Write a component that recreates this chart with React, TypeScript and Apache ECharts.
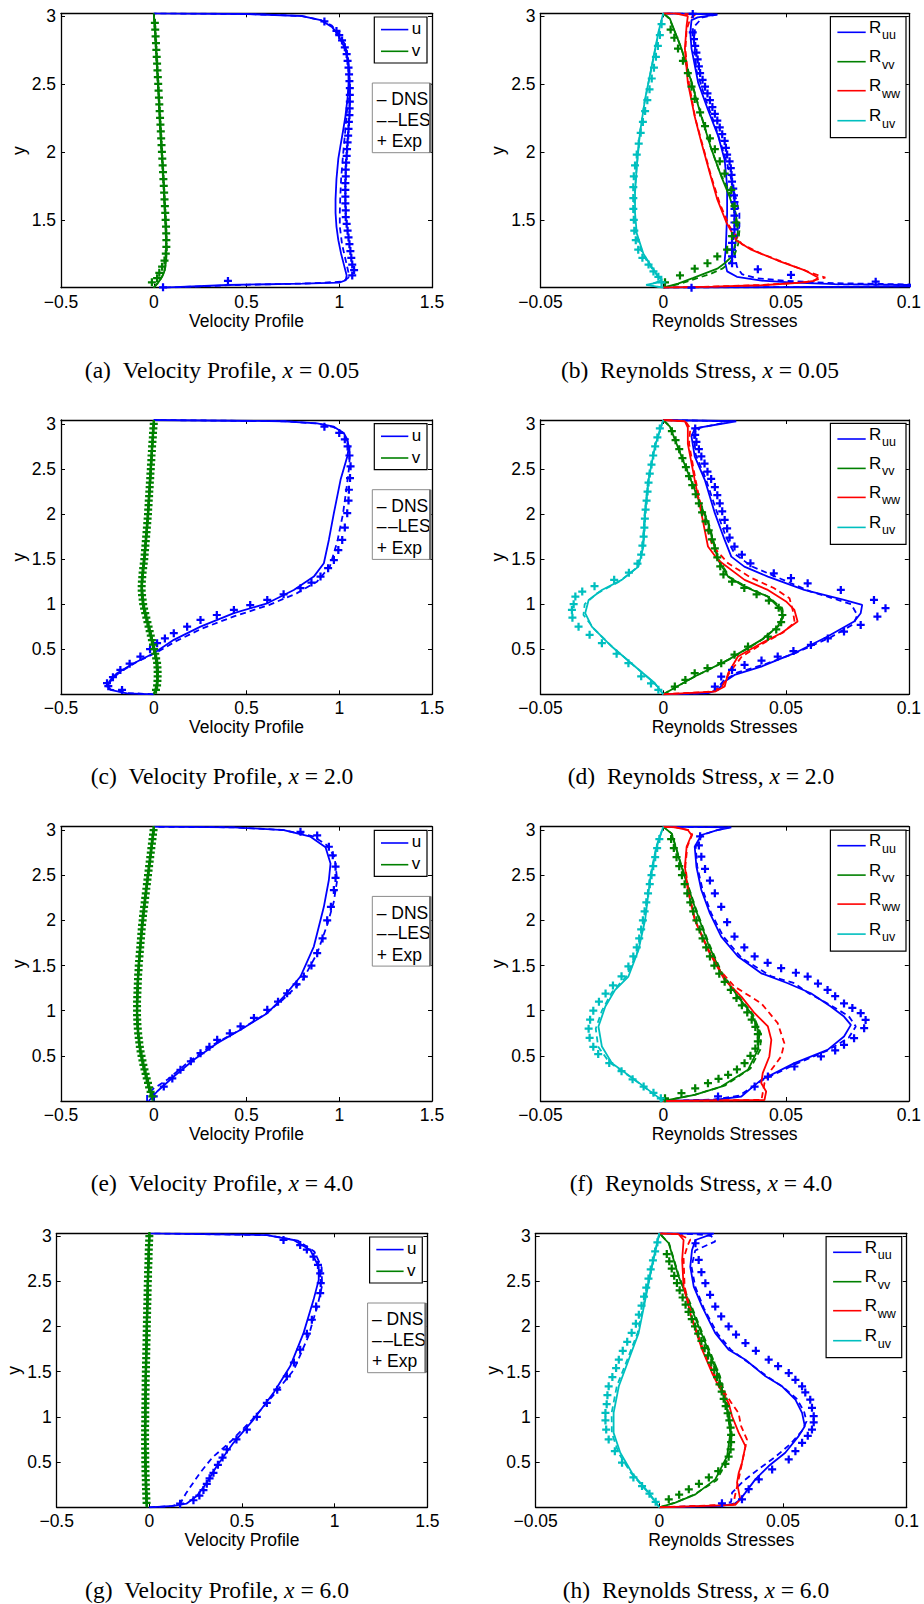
import React, { useEffect, useRef } from "react";
import * as echarts from "echarts";

type P = [number, number][];

const BLUE = "#0000ff";
const GREEN = "#008000";
const RED = "#ff0000";
const CYAN = "#00bfbf";

// ---------- (a) velocity, x = 0.05 ----------
const A_U_DNS: P = [[0.05,1.0],[0.4,1.02],[0.8,1.03],[1.0,1.038],[1.035,1.055],[1.04,1.09],[1.025,1.17],[1.01,1.25],[0.995,1.35],[0.985,1.45],[0.98,1.55],[0.98,1.65],[0.985,1.8],[0.995,1.95],[1.006,2.04],[1.02,2.15],[1.033,2.26],[1.045,2.4],[1.05,2.5],[1.05,2.63],[1.04,2.72],[1.024,2.78],[0.99,2.87],[0.96,2.92],[0.9,2.97],[0.8,3.0],[0.5,3.015],[0.0,3.02]];
const A_U_LES: P = [[0.06,1.0],[0.45,1.02],[0.85,1.032],[1.02,1.045],[1.05,1.075],[1.05,1.11],[1.035,1.2],[1.015,1.32],[1.003,1.45],[1.003,1.55],[1.005,1.65],[1.01,1.8],[1.02,1.97],[1.032,2.15],[1.045,2.35],[1.053,2.5],[1.055,2.6],[1.045,2.72],[1.027,2.8],[0.995,2.87],[0.96,2.93],[0.9,2.97],[0.8,3.0],[0.5,3.015],[0.0,3.02]];
const A_U_EXP: P = [[0.05,1.003],[0.4,1.05],[1.07,1.09],[1.08,1.13],[1.07,1.17],[1.065,1.22],[1.06,1.27],[1.055,1.32],[1.05,1.37],[1.045,1.42],[1.04,1.47],[1.035,1.52],[1.035,1.57],[1.033,1.62],[1.033,1.67],[1.033,1.72],[1.033,1.77],[1.035,1.82],[1.035,1.87],[1.037,1.92],[1.04,1.97],[1.042,2.02],[1.045,2.07],[1.048,2.12],[1.05,2.17],[1.052,2.22],[1.055,2.27],[1.056,2.32],[1.057,2.37],[1.057,2.42],[1.057,2.47],[1.055,2.52],[1.053,2.57],[1.05,2.62],[1.045,2.67],[1.04,2.72],[1.03,2.77],[1.015,2.82],[1.0,2.86],[0.985,2.89],[0.92,2.96]];
const A_V_DNS: P = [[0,1.0],[0.02,1.03],[0.04,1.07],[0.055,1.11],[0.065,1.18],[0.068,1.25],[0.066,1.35],[0.063,1.45],[0.058,1.6],[0.054,1.75],[0.048,1.9],[0.04,2.04],[0.033,2.2],[0.027,2.4],[0.02,2.55],[0.014,2.7],[0.008,2.85],[0.003,2.95],[0,3.02]];
const A_V_LES: P = [[0,1.0],[0.025,1.04],[0.045,1.08],[0.06,1.13],[0.067,1.2],[0.07,1.28],[0.068,1.4],[0.064,1.5],[0.058,1.65],[0.052,1.8],[0.045,1.95],[0.038,2.1],[0.03,2.3],[0.023,2.5],[0.016,2.65],[0.01,2.8],[0.004,2.93],[0,3.02]];
const A_V_EXP: P = [[-0.01,1.04],[0.018,1.07],[0.03,1.11],[0.045,1.155],[0.058,1.2],[0.065,1.25],[0.068,1.3],[0.068,1.35],[0.067,1.4],[0.066,1.45],[0.064,1.5],[0.062,1.55],[0.06,1.6],[0.058,1.65],[0.056,1.7],[0.054,1.75],[0.052,1.8],[0.05,1.85],[0.048,1.9],[0.046,1.95],[0.044,2.0],[0.042,2.05],[0.04,2.1],[0.038,2.15],[0.036,2.2],[0.034,2.25],[0.032,2.3],[0.03,2.35],[0.028,2.4],[0.026,2.45],[0.024,2.5],[0.022,2.55],[0.02,2.6],[0.018,2.65],[0.016,2.7],[0.014,2.75],[0.012,2.8],[0.01,2.85],[0.008,2.9],[0.006,2.95]];

// ---------- (b) Reynolds stress, x = 0.05 ----------
const B_UU_DNS: P = [[0,1.0],[0.05,1.004],[0.11,1.012],[0.1,1.02],[0.07,1.027],[0.053,1.037],[0.04,1.052],[0.03,1.08],[0.026,1.12],[0.025,1.2],[0.0255,1.3],[0.0257,1.4],[0.026,1.55],[0.026,1.75],[0.025,1.94],[0.0223,2.12],[0.0182,2.31],[0.0142,2.51],[0.0115,2.76],[0.011,2.88],[0.0115,2.97],[0.014,2.99],[0.022,3.012],[0.01,3.018],[0,3.02]];
const B_UU_LES: P = [[0,1.0],[0.06,1.005],[0.11,1.013],[0.1,1.024],[0.07,1.033],[0.05,1.05],[0.038,1.07],[0.032,1.1],[0.03,1.155],[0.029,1.25],[0.0295,1.35],[0.031,1.45],[0.031,1.55],[0.029,1.7],[0.027,1.85],[0.0245,2.0],[0.021,2.2],[0.017,2.4],[0.0135,2.6],[0.0125,2.8],[0.013,2.93],[0.016,2.99],[0.022,3.01],[0.01,3.018],[0,3.02]];
const B_UU_EXP: P = [[0.0115,1.0],[0.0865,1.044],[0.052,1.094],[0.0385,1.135],[0.028,1.18],[0.028,1.23],[0.028,1.28],[0.028,1.33],[0.0285,1.38],[0.029,1.43],[0.029,1.48],[0.029,1.53],[0.029,1.58],[0.029,1.63],[0.0288,1.68],[0.0285,1.73],[0.028,1.78],[0.0278,1.83],[0.0275,1.88],[0.027,1.93],[0.026,1.98],[0.0255,2.03],[0.025,2.08],[0.024,2.13],[0.023,2.18],[0.022,2.23],[0.021,2.28],[0.02,2.33],[0.019,2.38],[0.018,2.43],[0.017,2.48],[0.016,2.53],[0.015,2.58],[0.0145,2.63],[0.014,2.68],[0.0135,2.73],[0.013,2.78],[0.0125,2.83],[0.012,2.88],[0.012,3.015]];
const B_VV_DNS: P = [[0,1.0],[0.006,1.03],[0.012,1.07],[0.017,1.106],[0.022,1.14],[0.025,1.18],[0.028,1.23],[0.029,1.3],[0.0304,1.4],[0.0297,1.52],[0.027,1.67],[0.0236,1.82],[0.0196,2.02],[0.0155,2.26],[0.0115,2.51],[0.0074,2.76],[0.0027,2.98],[0,3.02]];
const B_VV_LES: P = [[0,1.0],[0.007,1.03],[0.013,1.065],[0.019,1.1],[0.024,1.14],[0.027,1.18],[0.029,1.24],[0.0305,1.32],[0.031,1.42],[0.0295,1.55],[0.027,1.7],[0.023,1.85],[0.019,2.05],[0.015,2.3],[0.011,2.55],[0.007,2.78],[0.0025,2.98],[0,3.02]];
const B_VV_EXP: P = [[0.0007,1.04],[0.0068,1.09],[0.0128,1.14],[0.018,1.18],[0.022,1.23],[0.026,1.28],[0.028,1.38],[0.0297,1.48],[0.029,1.6],[0.0277,1.72],[0.025,1.84],[0.023,1.93],[0.021,2.02],[0.019,2.1],[0.017,2.19],[0.015,2.29],[0.0128,2.39],[0.0115,2.48],[0.01,2.58],[0.008,2.67],[0.006,2.76],[0.0045,2.84],[0.003,2.9]];
const B_WW_DNS: P = [[0,1.0],[0.02,1.008],[0.04,1.018],[0.055,1.035],[0.0615,1.05],[0.063,1.075],[0.0574,1.13],[0.0466,1.2],[0.0358,1.28],[0.0297,1.35],[0.0257,1.48],[0.022,1.65],[0.019,1.84],[0.0155,2.07],[0.0128,2.26],[0.01,2.51],[0.0088,2.76],[0.0095,2.93],[0.01,3.0],[0.005,3.02],[0,3.02]];
const B_WW_LES: P = [[0,1.0],[0.02,1.008],[0.04,1.02],[0.058,1.04],[0.066,1.075],[0.06,1.11],[0.05,1.18],[0.04,1.25],[0.032,1.32],[0.027,1.45],[0.023,1.62],[0.0195,1.82],[0.016,2.05],[0.013,2.25],[0.0105,2.5],[0.009,2.75],[0.0095,2.9],[0.011,2.98],[0.013,3.01],[0.005,3.02],[0,3.02]];
const B_UV_DNS: P = [[0,1.0],[-0.007,1.02],[-0.002,1.04],[-0.0007,1.06],[-0.002,1.08],[-0.0047,1.155],[-0.0081,1.25],[-0.0108,1.4],[-0.0115,1.55],[-0.0115,1.7],[-0.0108,1.89],[-0.0095,2.14],[-0.0074,2.39],[-0.0047,2.63],[-0.002,2.88],[0,3.02]];
const B_UV_LES: P = [[0,1.0],[-0.006,1.02],[-0.002,1.045],[-0.002,1.08],[-0.005,1.15],[-0.0085,1.25],[-0.011,1.38],[-0.012,1.5],[-0.0118,1.65],[-0.011,1.85],[-0.0098,2.1],[-0.0078,2.35],[-0.005,2.6],[-0.0022,2.85],[0,3.02]];
const B_UV_EXP: P = [[-0.0007,1.04],[-0.002,1.08],[-0.004,1.12],[-0.006,1.17],[-0.0085,1.22],[-0.0102,1.28],[-0.0112,1.35],[-0.0118,1.42],[-0.012,1.5],[-0.0122,1.58],[-0.0122,1.66],[-0.0122,1.74],[-0.012,1.82],[-0.0115,1.9],[-0.0108,1.98],[-0.01,2.06],[-0.0092,2.14],[-0.0083,2.22],[-0.0074,2.3],[-0.0065,2.38],[-0.0056,2.46],[-0.0047,2.54],[-0.0038,2.62],[-0.003,2.7],[-0.0022,2.78],[-0.0014,2.86],[-0.0007,2.94]];

// ---------- shared fine y-levels for dense experimental v markers ----------
const EXP_Y_FINE = [0.05,0.1,0.15,0.2,0.25,0.3,0.35,0.4,0.45,0.5,0.55,0.6,0.65,0.7,0.75,0.8,0.85,0.9,0.95,1.0,1.05,1.1,1.15,1.2,1.25,1.3,1.35,1.4,1.45,1.5,1.55,1.6,1.65,1.7,1.75,1.8,1.85,1.9,1.95,2.0,2.05,2.1,2.15,2.2,2.25,2.3,2.35,2.4,2.45,2.5,2.55,2.6,2.65,2.7,2.75,2.8,2.85,2.9,2.95,3.0];

// ---------- (c) velocity, x = 2.0 ----------
const C_U_DNS: P = [[0,0],[-0.144,0.011],[-0.234,0.049],[-0.252,0.104],[-0.23,0.17],[-0.198,0.234],[-0.108,0.345],[0,0.456],[0.108,0.604],[0.252,0.751],[0.432,0.9],[0.612,1.01],[0.755,1.158],[0.863,1.306],[0.917,1.454],[0.944,1.713],[0.971,2.01],[1.007,2.38],[1.043,2.637],[1.052,2.75],[1.04,2.84],[1.025,2.897],[0.971,2.97],[0.881,3.007],[0.7,3.03],[0,3.044]];
const C_U_LES: P = [[0,0],[-0.15,0.015],[-0.235,0.055],[-0.245,0.11],[-0.22,0.18],[-0.18,0.25],[-0.09,0.36],[0.02,0.47],[0.12,0.59],[0.26,0.73],[0.44,0.87],[0.62,0.99],[0.77,1.12],[0.88,1.25],[0.95,1.42],[0.99,1.7],[1.02,2.0],[1.04,2.3],[1.055,2.55],[1.055,2.75],[1.03,2.89],[0.97,2.965],[0.88,3.005],[0.7,3.03],[0,3.044]];
const C_U_EXP: P = [[-0.171,0.049],[-0.245,0.09],[-0.252,0.123],[-0.22,0.19],[-0.18,0.271],[-0.13,0.34],[-0.072,0.419],[-0.02,0.5],[0.018,0.567],[0.06,0.62],[0.108,0.678],[0.18,0.75],[0.252,0.825],[0.34,0.88],[0.432,0.936],[0.52,0.99],[0.612,1.047],[0.7,1.11],[0.791,1.177],[0.85,1.24],[0.899,1.306],[0.94,1.4],[0.971,1.49],[0.995,1.6],[1.016,1.713],[1.03,1.85],[1.043,2.01],[1.05,2.15],[1.052,2.27],[1.058,2.4],[1.061,2.53],[1.055,2.65],[1.045,2.75],[1.03,2.83],[1.0,2.9],[0.92,2.97]];
const C_V_DNS: P = [[0,0],[0.012,0.08],[0.018,0.16],[0.015,0.3],[0.009,0.419],[-0.005,0.55],[-0.018,0.678],[-0.036,0.82],[-0.054,0.973],[-0.063,1.195],[-0.054,1.417],[-0.045,1.62],[-0.036,1.824],[-0.027,2.1],[-0.018,2.38],[-0.009,2.7],[0,3.0],[0,3.044]];
const C_V_LES: P = [[0,0],[0.015,0.08],[0.022,0.17],[0.02,0.3],[0.012,0.43],[-0.002,0.56],[-0.02,0.7],[-0.04,0.85],[-0.058,1.0],[-0.065,1.2],[-0.058,1.4],[-0.048,1.6],[-0.038,1.82],[-0.028,2.1],[-0.019,2.4],[-0.01,2.7],[0,3.0],[0,3.044]];
const C_V_EXP_X = [0.012,0.018,0.02,0.021,0.021,0.02,0.018,0.013,0.008,0.002,-0.004,-0.01,-0.016,-0.022,-0.028,-0.034,-0.04,-0.046,-0.052,-0.057,-0.06,-0.063,-0.065,-0.065,-0.064,-0.062,-0.06,-0.057,-0.054,-0.051,-0.049,-0.047,-0.045,-0.043,-0.041,-0.039,-0.037,-0.035,-0.033,-0.031,-0.03,-0.028,-0.027,-0.025,-0.024,-0.022,-0.021,-0.019,-0.018,-0.016,-0.015,-0.013,-0.012,-0.01,-0.009,-0.007,-0.005,-0.004,-0.002,0.0];

// ---------- (d) Reynolds stress, x = 2.0 ----------
const D_UU_DNS: P = [[0,0],[0.0182,0.012],[0.0223,0.049],[0.025,0.141],[0.029,0.215],[0.0399,0.308],[0.0534,0.456],[0.0669,0.641],[0.0777,0.807],[0.0804,0.9],[0.081,0.992],[0.0736,1.047],[0.0574,1.158],[0.0426,1.306],[0.033,1.417],[0.0277,1.528],[0.025,1.713],[0.021,2.01],[0.0169,2.38],[0.0128,2.64],[0.0115,2.86],[0.0128,2.95],[0.0297,3.03],[0,3.044]];
const D_UU_LES: P = [[0,0],[0.018,0.012],[0.0215,0.05],[0.0245,0.15],[0.03,0.24],[0.041,0.33],[0.054,0.46],[0.068,0.63],[0.0775,0.78],[0.079,0.88],[0.0765,1.0],[0.0669,1.084],[0.06,1.14],[0.048,1.28],[0.036,1.42],[0.029,1.56],[0.0255,1.75],[0.0215,2.05],[0.0172,2.4],[0.0132,2.66],[0.0125,2.86],[0.015,2.96],[0.028,3.03],[0,3.044]];
const D_UU_EXP: P = [[0.021,0.086],[0.0236,0.197],[0.028,0.27],[0.0331,0.326],[0.04,0.375],[0.0466,0.419],[0.053,0.48],[0.0601,0.548],[0.067,0.62],[0.0736,0.696],[0.0804,0.77],[0.0872,0.862],[0.0905,0.955],[0.0858,1.047],[0.0723,1.158],[0.0588,1.232],[0.052,1.29],[0.045,1.343],[0.0355,1.454],[0.032,1.55],[0.029,1.64],[0.027,1.74],[0.026,1.84],[0.025,1.935],[0.024,2.03],[0.023,2.12],[0.022,2.21],[0.021,2.3],[0.0195,2.39],[0.018,2.47],[0.0168,2.56],[0.0155,2.64],[0.0145,2.72],[0.0135,2.8],[0.013,2.88],[0.013,2.95]];
const D_VV_DNS: P = [[0,0],[0.0128,0.197],[0.0264,0.382],[0.0399,0.604],[0.0466,0.751],[0.0486,0.862],[0.048,0.936],[0.0426,1.084],[0.0331,1.195],[0.0264,1.306],[0.0223,1.49],[0.0182,1.9],[0.0128,2.27],[0.0074,2.64],[0.0027,2.97],[0,3.044]];
const D_VV_LES: P = [[0,0],[0.013,0.2],[0.027,0.39],[0.0405,0.61],[0.047,0.76],[0.049,0.87],[0.0485,0.95],[0.043,1.08],[0.034,1.19],[0.027,1.3],[0.0225,1.5],[0.0185,1.9],[0.013,2.27],[0.0075,2.64],[0.0028,2.97],[0,3.044]];
const D_VV_EXP: P = [[0.0047,0.086],[0.009,0.16],[0.0128,0.234],[0.018,0.29],[0.0236,0.345],[0.029,0.44],[0.0345,0.53],[0.0426,0.64],[0.046,0.72],[0.048,0.8],[0.0485,0.88],[0.047,0.96],[0.043,1.04],[0.038,1.11],[0.033,1.18],[0.028,1.25],[0.0245,1.33],[0.0232,1.42],[0.022,1.52],[0.021,1.62],[0.0198,1.72],[0.0185,1.82],[0.0172,1.92],[0.0158,2.02],[0.0145,2.12],[0.0132,2.22],[0.0118,2.32],[0.0105,2.42],[0.0092,2.52],[0.0078,2.62],[0.0065,2.72],[0.005,2.82],[0.0035,2.92]];
const D_WW_DNS: P = [[0,0],[0.021,0.03],[0.025,0.086],[0.0264,0.234],[0.0304,0.419],[0.0399,0.567],[0.048,0.678],[0.0547,0.807],[0.0534,0.936],[0.05,1.03],[0.0426,1.158],[0.0331,1.27],[0.0223,1.49],[0.0182,1.64],[0.0155,2.01],[0.0128,2.38],[0.01,2.78],[0.01,2.96],[0.0088,3.03],[0,3.044]];
const D_WW_LES: P = [[0,0],[0.02,0.03],[0.024,0.09],[0.027,0.24],[0.032,0.42],[0.041,0.57],[0.049,0.69],[0.0535,0.8],[0.0527,0.936],[0.0514,1.066],[0.045,1.18],[0.036,1.29],[0.0264,1.454],[0.02,1.65],[0.016,2.0],[0.013,2.4],[0.0105,2.78],[0.011,2.95],[0.009,3.03],[0,3.044]];
const D_UV_DNS: P = [[0,0],[-0.0034,0.123],[-0.0115,0.308],[-0.021,0.53],[-0.0291,0.751],[-0.0318,0.9],[-0.0304,1.047],[-0.025,1.158],[-0.0169,1.27],[-0.0101,1.417],[-0.0081,1.64],[-0.0074,2.01],[-0.006,2.38],[-0.0034,2.75],[0,3.044]];
const D_UV_LES: P = [[0,0],[-0.0038,0.13],[-0.012,0.32],[-0.0205,0.52],[-0.028,0.72],[-0.0325,0.88],[-0.032,1.0],[-0.027,1.12],[-0.018,1.25],[-0.011,1.4],[-0.0085,1.6],[-0.0076,2.0],[-0.0062,2.38],[-0.0035,2.75],[0,3.044]];
const D_UV_EXP: P = [[-0.002,0.05],[-0.005,0.12],[-0.009,0.2],[-0.0142,0.345],[-0.019,0.45],[-0.025,0.567],[-0.03,0.66],[-0.0345,0.751],[-0.037,0.85],[-0.0372,0.936],[-0.0365,1.0],[-0.0358,1.084],[-0.033,1.14],[-0.028,1.2],[-0.02,1.27],[-0.014,1.35],[-0.0105,1.45],[-0.009,1.55],[-0.0085,1.65],[-0.008,1.75],[-0.0077,1.85],[-0.0075,1.95],[-0.0072,2.05],[-0.0068,2.15],[-0.0064,2.25],[-0.006,2.35],[-0.0055,2.45],[-0.0048,2.55],[-0.0041,2.65],[-0.0033,2.75],[-0.0024,2.85],[-0.0014,2.95]];

// ---------- (e) velocity, x = 4.0 ----------
const E_U_DNS: P = [[-0.027,0],[0.018,0.105],[0.108,0.271],[0.216,0.456],[0.342,0.64],[0.468,0.788],[0.612,0.972],[0.701,1.156],[0.791,1.378],[0.863,1.71],[0.917,2.15],[0.944,2.447],[0.953,2.63],[0.926,2.81],[0.845,2.926],[0.701,3.0],[0.432,3.03],[0,3.037]];
const E_U_LES: P = [[-0.036,0.0],[-0.036,0.068],[0.0,0.14],[0.072,0.234],[0.18,0.42],[0.3,0.6],[0.45,0.77],[0.6,0.96],[0.7,1.13],[0.8,1.33],[0.881,1.636],[0.935,1.95],[0.97,2.2],[0.989,2.447],[0.975,2.7],[0.935,2.83],[0.86,2.93],[0.7,3.0],[0.43,3.03],[0,3.037]];
const E_U_EXP: P = [[0,0.05],[0.054,0.16],[0.1,0.25],[0.144,0.345],[0.2,0.44],[0.252,0.53],[0.3,0.6],[0.342,0.677],[0.41,0.75],[0.468,0.825],[0.54,0.92],[0.612,1.009],[0.67,1.1],[0.719,1.193],[0.77,1.29],[0.809,1.378],[0.85,1.5],[0.881,1.636],[0.91,1.8],[0.935,2.0],[0.955,2.15],[0.971,2.336],[0.98,2.47],[0.98,2.594],[0.965,2.72],[0.944,2.815],[0.881,2.94],[0.791,2.98]];
const E_V_DNS: P = [[0,0],[-0.02,0.12],[-0.036,0.234],[-0.055,0.38],[-0.072,0.53],[-0.084,0.75],[-0.09,0.972],[-0.088,1.15],[-0.086,1.34],[-0.072,1.71],[-0.045,2.26],[-0.018,2.705],[0,3.0],[0,3.037]];
const E_V_LES: P = [[0,0],[-0.022,0.13],[-0.038,0.25],[-0.056,0.4],[-0.073,0.56],[-0.085,0.78],[-0.09,1.0],[-0.088,1.2],[-0.084,1.4],[-0.07,1.75],[-0.044,2.28],[-0.017,2.72],[0,3.0],[0,3.037]];
const E_V_EXP_X = [-0.008,-0.017,-0.025,-0.031,-0.038,-0.044,-0.05,-0.056,-0.061,-0.066,-0.071,-0.075,-0.078,-0.081,-0.084,-0.086,-0.088,-0.089,-0.09,-0.09,-0.09,-0.09,-0.089,-0.088,-0.087,-0.086,-0.085,-0.084,-0.082,-0.081,-0.079,-0.077,-0.075,-0.073,-0.071,-0.069,-0.067,-0.065,-0.063,-0.06,-0.058,-0.055,-0.052,-0.049,-0.046,-0.043,-0.04,-0.037,-0.034,-0.031,-0.028,-0.025,-0.022,-0.019,-0.016,-0.013,-0.01,-0.007,-0.004,-0.001];

// ---------- (f) Reynolds stress, x = 4.0 ----------
const F_UU_DNS: P = [[0,0],[0.021,0.013],[0.0318,0.05],[0.0358,0.142],[0.0399,0.234],[0.0534,0.419],[0.0669,0.566],[0.0736,0.714],[0.0764,0.843],[0.0736,0.935],[0.0682,1.046],[0.0601,1.193],[0.0507,1.304],[0.0399,1.414],[0.0304,1.6],[0.0236,1.82],[0.019,2.078],[0.0155,2.336],[0.0135,2.594],[0.0128,2.815],[0.0155,2.945],[0.022,3.0],[0.0277,3.03],[0,3.037]];
const F_UU_LES: P = [[0,0],[0.02,0.015],[0.031,0.06],[0.036,0.15],[0.041,0.24],[0.054,0.41],[0.067,0.56],[0.0755,0.7],[0.0784,0.825],[0.0755,0.94],[0.0669,1.08],[0.0588,1.2],[0.0534,1.304],[0.044,1.38],[0.032,1.58],[0.0245,1.82],[0.0195,2.08],[0.016,2.34],[0.0138,2.6],[0.0132,2.82],[0.0158,2.945],[0.022,3.0],[0.027,3.03],[0,3.037]];
const F_UU_EXP: P = [[0.0223,0.05],[0.0372,0.16],[0.0426,0.271],[0.0534,0.382],[0.0642,0.493],[0.07,0.56],[0.0736,0.622],[0.0777,0.695],[0.0818,0.806],[0.0824,0.898],[0.0804,0.972],[0.077,1.03],[0.0736,1.08],[0.07,1.16],[0.0669,1.23],[0.063,1.3],[0.0588,1.378],[0.054,1.42],[0.048,1.47],[0.0425,1.53],[0.0372,1.6],[0.033,1.7],[0.029,1.82],[0.026,1.98],[0.0236,2.15],[0.021,2.3],[0.019,2.44],[0.017,2.57],[0.0155,2.705],[0.0145,2.83],[0.015,2.93]];
const F_VV_DNS: P = [[0,0],[0.0128,0.068],[0.0236,0.16],[0.0345,0.345],[0.0385,0.566],[0.0392,0.75],[0.0358,0.972],[0.0304,1.156],[0.0236,1.414],[0.0182,1.746],[0.0128,2.15],[0.0074,2.594],[0.0034,2.96],[0,3.037]];
const F_VV_LES: P = [[0,0],[0.013,0.07],[0.025,0.17],[0.0355,0.36],[0.0395,0.57],[0.0398,0.74],[0.0365,0.96],[0.031,1.15],[0.024,1.41],[0.0185,1.75],[0.013,2.15],[0.0075,2.6],[0.0035,2.96],[0,3.037]];
const F_VV_EXP: P = [[0.0007,0.03],[0.0074,0.086],[0.013,0.14],[0.0182,0.197],[0.0225,0.245],[0.0264,0.29],[0.03,0.35],[0.0331,0.419],[0.0355,0.5],[0.0375,0.58],[0.0385,0.66],[0.0385,0.74],[0.0375,0.82],[0.036,0.9],[0.0342,0.98],[0.032,1.06],[0.0298,1.14],[0.0275,1.23],[0.025,1.32],[0.0228,1.41],[0.0208,1.5],[0.019,1.6],[0.0175,1.7],[0.016,1.8],[0.0148,1.9],[0.0135,2.0],[0.0122,2.1],[0.011,2.2],[0.0098,2.3],[0.0087,2.4],[0.0076,2.5],[0.0065,2.6],[0.0054,2.7],[0.0043,2.8],[0.0032,2.9]];
const F_WW_DNS: P = [[0,0],[0.0412,0.011],[0.0419,0.105],[0.0399,0.197],[0.0405,0.308],[0.0432,0.493],[0.044,0.677],[0.0426,0.825],[0.0372,0.972],[0.0318,1.156],[0.025,1.34],[0.0182,1.672],[0.0128,2.004],[0.01,2.336],[0.0088,2.594],[0.0095,2.815],[0.0115,2.945],[0.01,3.0],[0.005,3.03],[0,3.037]];
const F_WW_LES: P = [[0,0],[0.04,0.012],[0.0412,0.197],[0.044,0.345],[0.048,0.493],[0.0493,0.64],[0.0466,0.862],[0.0399,1.082],[0.029,1.267],[0.023,1.45],[0.0185,1.67],[0.013,2.0],[0.0102,2.33],[0.009,2.6],[0.0098,2.82],[0.0118,2.95],[0.0105,3.0],[0.005,3.03],[0,3.037]];
const F_UV_DNS: P = [[0,0],[-0.0034,0.068],[-0.0115,0.234],[-0.0209,0.419],[-0.025,0.603],[-0.0264,0.825],[-0.0236,1.046],[-0.0196,1.23],[-0.0142,1.378],[-0.0101,1.672],[-0.0074,2.004],[-0.0054,2.447],[-0.0027,2.815],[0,3.037]];
const F_UV_LES: P = [[0,0],[-0.0036,0.07],[-0.012,0.24],[-0.022,0.43],[-0.0265,0.6],[-0.0275,0.8],[-0.025,1.0],[-0.021,1.2],[-0.015,1.38],[-0.0105,1.65],[-0.0076,2.0],[-0.0056,2.45],[-0.0028,2.82],[0,3.037]];
const F_UV_EXP: P = [[-0.001,0.03],[-0.004,0.09],[-0.008,0.16],[-0.0125,0.24],[-0.017,0.33],[-0.022,0.42],[-0.0265,0.52],[-0.0285,0.6],[-0.03,0.7],[-0.0304,0.8],[-0.0298,0.9],[-0.0285,1.0],[-0.0262,1.1],[-0.0235,1.19],[-0.0205,1.28],[-0.017,1.38],[-0.0142,1.49],[-0.0122,1.6],[-0.0108,1.7],[-0.0098,1.8],[-0.009,1.9],[-0.0083,2.0],[-0.0076,2.1],[-0.0069,2.2],[-0.0062,2.3],[-0.0055,2.4],[-0.0048,2.5],[-0.0041,2.6],[-0.0033,2.7],[-0.0025,2.8],[-0.0016,2.9]];

// ---------- (g) velocity, x = 6.0 ----------
const G_U_DNS: P = [[0,0],[0.13,0.015],[0.2,0.04],[0.256,0.125],[0.31,0.272],[0.364,0.456],[0.454,0.713],[0.562,0.97],[0.67,1.265],[0.76,1.559],[0.832,1.926],[0.886,2.294],[0.914,2.515],[0.914,2.66],[0.868,2.846],[0.778,2.956],[0.634,3.01],[0,3.03]];
const G_U_LES: P = [[0,0],[0.12,0.012],[0.166,0.04],[0.2,0.162],[0.274,0.382],[0.34,0.55],[0.44,0.73],[0.555,0.97],[0.67,1.24],[0.78,1.52],[0.86,1.9],[0.91,2.25],[0.932,2.45],[0.93,2.65],[0.89,2.83],[0.8,2.95],[0.64,3.01],[0,3.03]];
const G_U_EXP: P = [[0.166,0.04],[0.238,0.078],[0.27,0.13],[0.292,0.19],[0.31,0.26],[0.325,0.32],[0.346,0.382],[0.37,0.47],[0.395,0.55],[0.418,0.64],[0.47,0.75],[0.526,0.86],[0.58,1.0],[0.634,1.154],[0.69,1.3],[0.742,1.449],[0.78,1.6],[0.814,1.743],[0.85,1.92],[0.877,2.074],[0.9,2.22],[0.922,2.368],[0.925,2.48],[0.922,2.588],[0.91,2.68],[0.886,2.772],[0.85,2.85],[0.814,2.9],[0.724,2.956]];
const G_V_DNS: P = [[-0.014,0],[-0.018,0.3],[-0.023,0.82],[-0.02,1.4],[-0.014,1.93],[-0.008,2.5],[0,3.0],[0,3.03]];
const G_V_LES: P = [[-0.012,0],[-0.017,0.35],[-0.021,0.85],[-0.019,1.4],[-0.013,1.95],[-0.007,2.5],[0,3.0],[0,3.03]];
const G_V_EXP_X = [-0.015,-0.016,-0.017,-0.018,-0.019,-0.019,-0.02,-0.021,-0.021,-0.022,-0.022,-0.022,-0.023,-0.023,-0.023,-0.023,-0.023,-0.023,-0.022,-0.022,-0.022,-0.022,-0.021,-0.021,-0.021,-0.02,-0.02,-0.02,-0.019,-0.019,-0.018,-0.018,-0.017,-0.017,-0.016,-0.016,-0.015,-0.015,-0.014,-0.014,-0.013,-0.013,-0.012,-0.012,-0.011,-0.01,-0.01,-0.009,-0.009,-0.008,-0.007,-0.007,-0.006,-0.005,-0.004,-0.004,-0.003,-0.002,-0.001,0.0];

// ---------- (h) Reynolds stress, x = 6.0 ----------
const H_UU_DNS: P = [[0,0],[0.0253,0.015],[0.0307,0.044],[0.0327,0.088],[0.0348,0.162],[0.0388,0.309],[0.0442,0.456],[0.0509,0.603],[0.0563,0.787],[0.0588,0.897],[0.0577,1.044],[0.055,1.19],[0.0496,1.338],[0.0429,1.449],[0.0348,1.632],[0.028,1.743],[0.0226,1.926],[0.0173,2.22],[0.0139,2.44],[0.0125,2.66],[0.0132,2.846],[0.0146,2.956],[0.022,3.03],[0,3.03]];
const H_UU_LES: P = [[0,0],[0.025,0.02],[0.029,0.06],[0.0294,0.162],[0.034,0.29],[0.04,0.42],[0.047,0.56],[0.053,0.7],[0.0575,0.84],[0.0595,0.95],[0.0585,1.06],[0.0555,1.2],[0.05,1.33],[0.044,1.44],[0.036,1.6],[0.029,1.74],[0.0235,1.92],[0.018,2.2],[0.0145,2.44],[0.013,2.66],[0.0145,2.84],[0.0226,2.94],[0.021,3.0],[0.015,3.02],[0,3.03]];
const H_UU_EXP: P = [[0.0253,0.044],[0.0334,0.088],[0.0361,0.2],[0.0402,0.309],[0.0456,0.419],[0.0523,0.529],[0.055,0.62],[0.0577,0.713],[0.06,0.79],[0.0617,0.86],[0.0624,0.94],[0.0624,1.007],[0.0617,1.1],[0.061,1.19],[0.059,1.27],[0.0577,1.338],[0.055,1.41],[0.0523,1.485],[0.048,1.56],[0.0442,1.632],[0.039,1.73],[0.0348,1.816],[0.031,1.91],[0.028,2.0],[0.025,2.11],[0.0226,2.22],[0.0205,2.35],[0.0186,2.478],[0.017,2.6],[0.0159,2.735],[0.0146,2.92]];
const H_VV_DNS: P = [[0,0],[0.0065,0.051],[0.0146,0.143],[0.0226,0.309],[0.0274,0.566],[0.0287,0.823],[0.0274,1.081],[0.024,1.449],[0.0186,1.816],[0.0132,2.184],[0.0078,2.55],[0.0038,2.92],[0,3.03]];
const H_VV_LES: P = [[0,0],[0.0062,0.05],[0.014,0.14],[0.0232,0.3],[0.028,0.55],[0.0293,0.8],[0.028,1.08],[0.0245,1.45],[0.019,1.82],[0.0135,2.19],[0.008,2.55],[0.0039,2.92],[0,3.03]];
const H_VV_EXP: P = [[0.0038,0.088],[0.008,0.14],[0.0119,0.199],[0.016,0.26],[0.02,0.33],[0.0238,0.4],[0.0267,0.48],[0.028,0.56],[0.0288,0.64],[0.029,0.72],[0.029,0.8],[0.0288,0.88],[0.0283,0.96],[0.0276,1.04],[0.0268,1.12],[0.026,1.2],[0.0252,1.28],[0.0243,1.36],[0.0233,1.44],[0.0222,1.52],[0.021,1.6],[0.0197,1.68],[0.0183,1.76],[0.017,1.84],[0.0157,1.92],[0.0144,2.0],[0.0131,2.08],[0.0118,2.16],[0.0106,2.24],[0.0094,2.32],[0.0082,2.4],[0.0071,2.48],[0.006,2.56],[0.005,2.64],[0.004,2.72],[0.003,2.8]];
const H_WW_DNS: P = [[0,0],[0.0307,0.026],[0.0327,0.088],[0.0314,0.272],[0.0321,0.382],[0.0334,0.493],[0.0348,0.676],[0.0321,0.823],[0.0294,1.007],[0.028,1.154],[0.024,1.338],[0.0213,1.485],[0.0173,1.743],[0.0132,2.074],[0.0098,2.44],[0.0092,2.735],[0.0098,2.956],[0.0078,3.02],[0,3.03]];
const H_WW_LES: P = [[0,0],[0.03,0.03],[0.0305,0.12],[0.032,0.3],[0.0335,0.5],[0.0354,0.75],[0.033,0.9],[0.032,1.044],[0.029,1.16],[0.025,1.33],[0.022,1.48],[0.0178,1.74],[0.0135,2.07],[0.0102,2.44],[0.0098,2.75],[0.0115,2.9],[0.0125,2.96],[0.0078,3.02],[0,3.03]];
const H_UV_DNS: P = [[0,0],[-0.0043,0.162],[-0.0111,0.382],[-0.0158,0.603],[-0.0185,0.823],[-0.0185,1.044],[-0.0164,1.338],[-0.0124,1.632],[-0.0084,1.926],[-0.0057,2.294],[-0.003,2.66],[0,3.03]];
const H_UV_LES: P = [[0,0],[-0.0045,0.16],[-0.0115,0.38],[-0.0165,0.6],[-0.0192,0.82],[-0.0193,1.044],[-0.0172,1.34],[-0.013,1.63],[-0.0088,1.93],[-0.0059,2.3],[-0.0031,2.66],[0,3.03]];
const H_UV_EXP: P = [[-0.0015,0.06],[-0.004,0.15],[-0.007,0.235],[-0.0105,0.33],[-0.0151,0.493],[-0.018,0.62],[-0.0205,0.75],[-0.0215,0.86],[-0.0218,0.96],[-0.0218,1.044],[-0.0213,1.14],[-0.021,1.24],[-0.0205,1.338],[-0.019,1.44],[-0.0175,1.54],[-0.0164,1.632],[-0.0148,1.73],[-0.013,1.83],[-0.0112,1.93],[-0.0095,2.03],[-0.0083,2.13],[-0.0072,2.23],[-0.0062,2.33],[-0.0053,2.43],[-0.0044,2.53],[-0.0035,2.63],[-0.0026,2.73],[-0.0017,2.83],[-0.0008,2.93]];

const zipXY = (xs: number[], ys: number[]): P => xs.map((x, i) => [x, ys[i]] as [number, number]);

const SANS = '"Liberation Sans", Arial, Helvetica, sans-serif';
const SERIF = '"Liberation Serif", "Times New Roman", serif';
const PLUS = "path://M3.6,0H6.4V3.6H10V6.4H6.4V10H3.6V6.4H0V3.6H3.6Z";
const FS = 17.5;

type Curve = { color: string; dns: P; les: P; exp: P };
type Panel = {
  left: number; top: number; width: number; height: number;
  vel: boolean; yMin: number; yMax: number;
  label: string; xval: string; capX: number; capY: number;
  curves: Curve[];
};

const PANELS: Panel[] = [
  { left: 61, top: 13.3, width: 371, height: 274.4, vel: true, yMin: 1.0, yMax: 3.02, label: "(a)", xval: "0.05", capX: 222, capY: 370,
    curves: [{ color: BLUE, dns: A_U_DNS, les: A_U_LES, exp: A_U_EXP }, { color: GREEN, dns: A_V_DNS, les: A_V_LES, exp: A_V_EXP }] },
  { left: 540.5, top: 13.3, width: 370.5, height: 274.4, vel: false, yMin: 1.0, yMax: 3.02, label: "(b)", xval: "0.05", capX: 700, capY: 370,
    curves: [{ color: BLUE, dns: B_UU_DNS, les: B_UU_LES, exp: B_UU_EXP }, { color: GREEN, dns: B_VV_DNS, les: B_VV_LES, exp: B_VV_EXP }, { color: RED, dns: B_WW_DNS, les: B_WW_LES, exp: [] }, { color: CYAN, dns: B_UV_DNS, les: B_UV_LES, exp: B_UV_EXP }] },
  { left: 61, top: 420, width: 371, height: 274.3, vel: true, yMin: 0, yMax: 3.044, label: "(c)", xval: "2.0", capX: 222, capY: 776,
    curves: [{ color: BLUE, dns: C_U_DNS, les: C_U_LES, exp: C_U_EXP }, { color: GREEN, dns: C_V_DNS, les: C_V_LES, exp: zipXY(C_V_EXP_X, EXP_Y_FINE) }] },
  { left: 540.5, top: 420, width: 370.5, height: 274.3, vel: false, yMin: 0, yMax: 3.044, label: "(d)", xval: "2.0", capX: 701, capY: 776,
    curves: [{ color: BLUE, dns: D_UU_DNS, les: D_UU_LES, exp: D_UU_EXP }, { color: GREEN, dns: D_VV_DNS, les: D_VV_LES, exp: D_VV_EXP }, { color: RED, dns: D_WW_DNS, les: D_WW_LES, exp: [] }, { color: CYAN, dns: D_UV_DNS, les: D_UV_LES, exp: D_UV_EXP }] },
  { left: 61, top: 826.7, width: 371, height: 274.3, vel: true, yMin: 0, yMax: 3.037, label: "(e)", xval: "4.0", capX: 222, capY: 1183,
    curves: [{ color: BLUE, dns: E_U_DNS, les: E_U_LES, exp: E_U_EXP }, { color: GREEN, dns: E_V_DNS, les: E_V_LES, exp: zipXY(E_V_EXP_X, EXP_Y_FINE) }] },
  { left: 540.5, top: 826.7, width: 370.5, height: 274.3, vel: false, yMin: 0, yMax: 3.037, label: "(f)", xval: "4.0", capX: 701, capY: 1183,
    curves: [{ color: BLUE, dns: F_UU_DNS, les: F_UU_LES, exp: F_UU_EXP }, { color: GREEN, dns: F_VV_DNS, les: F_VV_LES, exp: F_VV_EXP }, { color: RED, dns: F_WW_DNS, les: F_WW_LES, exp: [] }, { color: CYAN, dns: F_UV_DNS, les: F_UV_LES, exp: F_UV_EXP }] },
  { left: 56.7, top: 1233.3, width: 370.6, height: 274, vel: true, yMin: 0, yMax: 3.03, label: "(g)", xval: "6.0", capX: 217, capY: 1590,
    curves: [{ color: BLUE, dns: G_U_DNS, les: G_U_LES, exp: G_U_EXP }, { color: GREEN, dns: G_V_DNS, les: G_V_LES, exp: zipXY(G_V_EXP_X, EXP_Y_FINE) }] },
  { left: 535.7, top: 1233.3, width: 371, height: 274, vel: false, yMin: 0, yMax: 3.03, label: "(h)", xval: "6.0", capX: 696, capY: 1590,
    curves: [{ color: BLUE, dns: H_UU_DNS, les: H_UU_LES, exp: H_UU_EXP }, { color: GREEN, dns: H_VV_DNS, les: H_VV_LES, exp: H_VV_EXP }, { color: RED, dns: H_WW_DNS, les: H_WW_LES, exp: [] }, { color: CYAN, dns: H_UV_DNS, les: H_UV_LES, exp: H_UV_EXP }] },
];

const R_LEGEND = [
  { color: BLUE, sub: "uu" },
  { color: GREEN, sub: "vv" },
  { color: RED, sub: "ww" },
  { color: CYAN, sub: "uv" },
];

function fmtNum(v: number): string {
  const r = Math.round(v * 1000) / 1000;
  if (Math.abs(r) < 1e-9) return "0";
  return r < 0 ? "\u2212" + String(-r) : String(r);
}

function buildOption() {
  const grid: any[] = [];
  const xAxis: any[] = [];
  const yAxis: any[] = [];
  const series: any[] = [];
  const elements: any[] = [];

  const txt = (x: number, y: number, text: string, size = FS, extra: any = {}) => ({
    type: "text", x, y, z: 100,
    style: { text, fill: "#000", fontSize: size, fontFamily: SANS, align: "left", verticalAlign: "middle", ...extra },
  });

  PANELS.forEach((p, i) => {
    grid.push({ left: p.left, top: p.top, width: p.width, height: p.height, show: false });
    const xMin = p.vel ? -0.5 : -0.05;
    const xMax = p.vel ? 1.5 : 0.1;
    const xInt = p.vel ? 0.5 : 0.05;
    const lineSt = { show: true, onZero: false, lineStyle: { color: "#000", width: 1.3 } };
    const tickSt = { show: true, inside: true, length: 4, lineStyle: { color: "#000", width: 1 } };
    const labSt = { color: "#000", fontSize: FS, fontFamily: SANS };
    xAxis.push({
      type: "value", gridIndex: i, position: "bottom", min: xMin, max: xMax, interval: xInt,
      axisLine: lineSt, axisTick: tickSt, splitLine: { show: false },
      axisLabel: { ...labSt, margin: 5, formatter: (v: number) => fmtNum(v) },
      name: p.vel ? "Velocity Profile" : "Reynolds Stresses", nameLocation: "middle", nameGap: 23,
      nameTextStyle: labSt,
    });
    xAxis.push({
      type: "value", gridIndex: i, position: "top", min: xMin, max: xMax, interval: xInt,
      axisLine: lineSt, axisTick: tickSt, splitLine: { show: false }, axisLabel: { show: false },
    });
    const yFmt = (v: number) => {
      const k = Math.round(v * 2);
      if (Math.abs(v * 2 - k) > 1e-6) return "";
      if (v <= p.yMin + 1e-6) return "";
      return fmtNum(v);
    };
    yAxis.push({
      type: "value", gridIndex: i, position: "left", min: p.yMin, max: p.yMax, interval: 0.5,
      axisLine: lineSt, axisTick: tickSt, splitLine: { show: false },
      axisLabel: { ...labSt, margin: 5, formatter: yFmt },
      name: "y", nameLocation: "middle", nameGap: 31, nameTextStyle: labSt,
    });
    yAxis.push({
      type: "value", gridIndex: i, position: "right", min: p.yMin, max: p.yMax, interval: 0.5,
      axisLine: lineSt, axisTick: tickSt, splitLine: { show: false }, axisLabel: { show: false },
    });

    p.curves.forEach((c) => {
      series.push({
        type: "line", xAxisIndex: 2 * i, yAxisIndex: 2 * i, data: c.dns, symbol: "none", showSymbol: false,
        lineStyle: { color: c.color, width: 1.8 }, itemStyle: { color: c.color }, z: 2, clip: true,
      });
      series.push({
        type: "line", xAxisIndex: 2 * i, yAxisIndex: 2 * i, data: c.les, symbol: "none", showSymbol: false,
        lineStyle: { color: c.color, width: 1.8, type: [6, 4] }, itemStyle: { color: c.color }, z: 2, clip: true,
      });
      if (c.exp.length) {
        series.push({
          type: "scatter", xAxisIndex: 2 * i, yAxisIndex: 2 * i, data: c.exp, symbol: PLUS, symbolSize: 8,
          itemStyle: { color: c.color, opacity: 1 }, z: 3, clip: true,
        });
      }
    });

    const right = p.left + p.width;
    if (p.vel) {
      const bx = right - 57.7, by = p.top + 3.7;
      elements.push({ type: "rect", z: 99, shape: { x: bx, y: by, width: 52.7, height: 46 }, style: { fill: "#fff", stroke: "#000", lineWidth: 1.2 } });
      elements.push({ type: "line", z: 100, shape: { x1: bx + 6.7, y1: by + 12.6, x2: bx + 34, y2: by + 12.6 }, style: { stroke: BLUE, lineWidth: 1.6 } });
      elements.push({ type: "line", z: 100, shape: { x1: bx + 6.7, y1: by + 34.3, x2: bx + 34, y2: by + 34.3 }, style: { stroke: GREEN, lineWidth: 1.6 } });
      elements.push(txt(bx + 37.5, by + 11.5, "u", 17));
      elements.push(txt(bx + 37.5, by + 33.5, "v", 17));
      const dx = right - 59.7, dy = p.top + 69.7;
      elements.push({ type: "rect", z: 99, shape: { x: dx, y: dy, width: 58, height: 69.7 }, style: { fill: "#fff", stroke: "#8a8a8a", lineWidth: 1 } });
      elements.push(txt(dx + 4.4, dy + 16.3, "\u2013 DNS"));
      elements.push(txt(dx + 4.4, dy + 36.7, "\u2013\u200a\u2013LES"));
      elements.push(txt(dx + 4.4, dy + 58.3, "+ Exp"));
      elements.push({ type: "line", z: 101, shape: { x1: dx + 58, y1: dy, x2: dx + 58, y2: dy + 69.7 }, style: { stroke: "#6e6e6e", lineWidth: 2.5 } });
    } else {
      const bx = right - 80.6, by = p.top + 3.4;
      elements.push({ type: "rect", z: 99, shape: { x: bx, y: by, width: 75.6, height: 121 }, style: { fill: "#fff", stroke: "#000", lineWidth: 1.2 } });
      const rows = [15.6, 45, 74, 104];
      R_LEGEND.forEach((r, k) => {
        const ly = by + rows[k];
        elements.push({ type: "line", z: 100, shape: { x1: bx + 7, y1: ly, x2: bx + 35.3, y2: ly }, style: { stroke: r.color, lineWidth: 1.6 } });
        elements.push(txt(bx + 38.6, ly - 4.8, "R", 17));
        elements.push(txt(bx + 51.6, ly + 3, r.sub, 12.5));
      });
    }

    elements.push({
      type: "text", x: p.capX, y: p.capY, z: 100,
      style: {
        text: p.label + "\u2002" + (p.vel ? "Velocity Profile" : "Reynolds Stress") + ", {i|x} = " + p.xval,
        fill: "#000", fontSize: 23.5, fontFamily: SERIF, align: "center", verticalAlign: "middle",
        rich: { i: { fontStyle: "italic", fontSize: 23.5, fontFamily: SERIF, fill: "#000" } },
      },
    });
  });

  return {
    animation: false,
    backgroundColor: "#ffffff",
    grid, xAxis, yAxis, series,
    graphic: { elements },
  };
}

export default function App() {
  const ref = useRef<HTMLDivElement>(null);
  useEffect(() => {
    document.body.style.margin = "0";
    if (!ref.current) return;
    const chart = echarts.init(ref.current, undefined, { renderer: "svg" });
    chart.setOption(buildOption() as any);
    return () => chart.dispose();
  }, []);
  return <div ref={ref} style={{ position: "absolute", left: 0, top: 0, width: 924, height: 1604, background: "#fff" }} />;
}
